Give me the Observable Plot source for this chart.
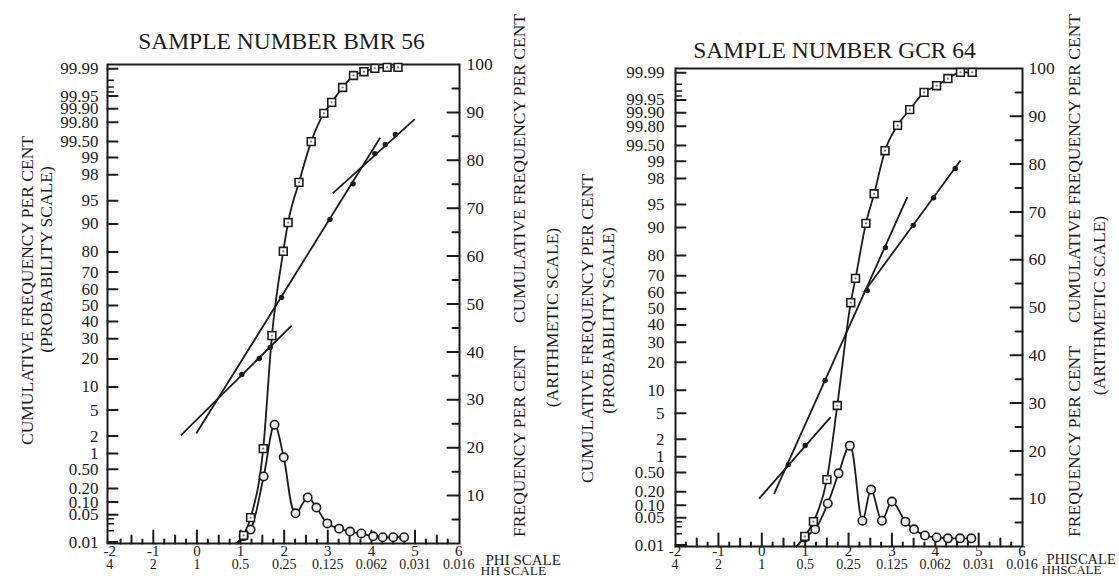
<!DOCTYPE html>
<html>
<head>
<meta charset="utf-8">
<script src="https://cdn.jsdelivr.net/npm/d3@7"></script>
<script src="https://cdn.jsdelivr.net/npm/@observablehq/plot@0.6"></script>
<style>
  html, body { margin: 0; padding: 0; background: #fff; }
  #wrap { display: flex; width: 1119px; height: 576px; overflow: hidden; font-family: "Liberation Serif", "Times New Roman", serif; }
  #wrap svg { overflow: visible; flex: none; }
  #wrap svg, #wrap svg text { font-family: "Liberation Serif", "Times New Roman", serif !important; }
</style>
</head>
<body>
<div id="wrap"></div>
<script>
// ---------------- shared axis data ----------------
const phiTicks = [-2, -1, 0, 1, 2, 3, 4, 5, 6];
const mmLabels = ["4", "2", "1", "0.5", "0.25", "0.125", "0.062", "0.031", "0.016"];
const phiMajor = [-1, 0, 1, 2, 3, 4, 5];
const phiHalf = [-1.5, -0.5, 0.5, 1.5, 2.5, 3.5, 4.5, 5.5];
const phiQuarter = [-1.75, -1.25, -0.75, -0.25, 0.25, 0.75, 1.25, 1.75, 2.25, 2.75, 3.25, 3.75, 4.25, 4.75, 5.25, 5.75];
const probTicks = [99.99, 99.95, 99.9, 99.8, 99.5, 99, 98, 95, 90, 80, 70, 60, 50, 40, 30, 20, 10, 5, 2, 1, 0.5, 0.2, 0.1, 0.05, 0.01];
const probLabels = ["99.99", "99.95", "99.90", "99.80", "99.50", "99", "98", "95", "90", "80", "70", "60", "50", "40", "30", "20", "10", "5", "2", "1", "0.50", "0.20", "0.10", "0.05", "0.01"];
const probMinor = [99.98, 99.97, 99.96, 0.04, 0.03, 0.02];
const arithLabels = [10, 20, 30, 40, 50, 60, 70, 80, 90, 100];
const arithMajor = [10, 20, 30, 40, 50, 60, 70, 80, 90];
const arithMinor = [5, 15, 25, 35, 45, 55, 65, 75, 85, 95];

// ---------------- SAMPLE BMR 56 ----------------
const bmrCumPhi = [0.94, 1.07, 1.23, 1.52, 1.72, 1.98, 2.09, 2.34, 2.62, 2.91, 3.09, 3.34, 3.59, 3.83, 4.08, 4.36, 4.61];
const bmrCumPct = [0, 1.7, 5.4, 19.8, 43.4, 61.0, 67.0, 75.4, 83.9, 89.8, 92.1, 95.2, 97.7, 98.5, 99.2, 99.4, 99.4];
const bmrFreqPhi = [0.90, 1.07, 1.23, 1.53, 1.78, 1.99, 2.26, 2.54, 2.74, 2.99, 3.26, 3.51, 3.77, 4.04, 4.26, 4.50, 4.75];
const bmrFreqPct = [0, 1.5, 2.9, 14.0, 24.8, 18.0, 6.3, 9.6, 7.5, 4.2, 3.1, 2.5, 2.1, 1.5, 1.3, 1.3, 1.3];
const bmrProbPhi = [1.03, 1.43, 1.68, 1.94, 3.05, 3.58, 4.08, 4.32, 4.55];
const bmrProbPct = [13.9, 20.2, 25.4, 55.0, 91.2, 97.2, 99.15, 99.43, 99.64];
// fitted lines: [phi1, pct1, phi2, pct2]
const bmrFits = [[-0.015, 2.2, 4.201, 99.58], [-0.367, 2.05, 2.171, 37.6], [3.112, 96.1, 4.995, 99.83]];

// ---------------- SAMPLE GCR 64 ----------------
const gcrCumPhi = [0.80, 0.99, 1.19, 1.50, 1.74, 2.05, 2.16, 2.40, 2.59, 2.84, 3.13, 3.41, 3.74, 4.03, 4.29, 4.58, 4.85];
const gcrCumPct = [0, 2.1, 5.2, 14.0, 29.5, 51.0, 56.1, 67.6, 73.8, 82.8, 88.1, 91.4, 95.0, 96.4, 97.9, 99.2, 99.2];
const gcrFreqPhi = [0.80, 0.99, 1.23, 1.52, 1.77, 2.03, 2.32, 2.52, 2.77, 3.00, 3.31, 3.51, 3.76, 4.03, 4.29, 4.57, 4.83];
const gcrFreqPct = [0, 1.9, 3.6, 9.0, 15.3, 21.1, 5.4, 11.9, 5.4, 9.4, 5.2, 3.6, 2.3, 1.9, 1.7, 1.7, 1.7];
const gcrProbPhi = [0.61, 1.00, 1.46, 2.43, 2.85, 3.49, 3.96, 4.46];
const gcrProbPct = [0.71, 1.57, 13.0, 61.4, 83.3, 90.6, 96.0, 98.65];
const gcrFits = [[0.282, 0.18, 3.354, 96.08], [-0.065, 0.14, 1.587, 4.41], [2.354, 60.4, 4.581, 99.03]];

// ---------------- probability-scale transform ----------------
function probit(p) {
  const a = [-3.969683028665376e+01, 2.209460984245205e+02, -2.759285104469687e+02, 1.383577518672690e+02, -3.066479806614716e+01, 2.506628277459239e+00];
  const b = [-5.447609879822406e+01, 1.615858368580409e+02, -1.556989798598866e+02, 6.680131188771972e+01, -1.328068155288572e+01];
  const c = [-7.784894002430293e-03, -3.223964580411365e-01, -2.400758277161838e+00, -2.549732539343734e+00, 4.374664141464968e+00, 2.938163982698783e+00];
  const d = [7.784695709041462e-03, 3.224671290700398e-01, 2.445134137142996e+00, 3.754408661907416e+00];
  const pl = 0.02425, ph = 1 - pl;
  let q, r;
  if (p < pl) {
    q = Math.sqrt(-2 * Math.log(p));
    return (((((c[0]*q+c[1])*q+c[2])*q+c[3])*q+c[4])*q+c[5]) / ((((d[0]*q+d[1])*q+d[2])*q+d[3])*q+1);
  }
  if (p <= ph) {
    q = p - 0.5; r = q * q;
    return (((((a[0]*r+a[1])*r+a[2])*r+a[3])*r+a[4])*r+a[5])*q / (((((b[0]*r+b[1])*r+b[2])*r+b[3])*r+b[4])*r+1);
  }
  q = Math.sqrt(-2 * Math.log(1 - p));
  return -(((((c[0]*q+c[1])*q+c[2])*q+c[3])*q+c[4])*q+c[5]) / ((((d[0]*q+d[1])*q+d[2])*q+d[3])*q+1);
}
const ZMAX = probit(0.9999);
// map a cumulative percentage (probability scale) onto the shared 0–100 vertical scale
const probPos = pct => 49.7 + 49.4 * probit(pct / 100) / ZMAX;

// ---------------- drawing ----------------
const INK = "#1b1b1b";
const FONT = "Liberation Serif, Times New Roman, serif";
const tickShape = {draw(context, l) { context.moveTo(0, 0); context.lineTo(0, -l); }};

function panel(p) {
  const probLabelOf = new Map(probTicks.map((t, i) => [probPos(t), probLabels[i]]));
  const at = (txt, X, Y, o = {}) => Plot.text([txt], {
    text: d => d, frameAnchor: "top-left", dx: X - p.ml, dy: Y - p.mt,
    fill: INK, fontSize: 17.5, ...o
  });
  const tick = (data, o) => Plot.vector(data, {anchor: "start", shape: tickShape, stroke: INK, strokeWidth: 2, ...o});
  return Plot.plot({
    width: p.width, height: 576,
    marginLeft: p.ml, marginRight: p.mr, marginTop: p.mt, marginBottom: p.mb,
    x: {domain: p.xDomain, axis: null},
    y: {domain: [0, 100], axis: null},
    style: {fontFamily: FONT, color: INK, background: "transparent", overflow: "visible"},
    marks: [
      // inward ticks
      tick(probTicks, {y: probPos, frameAnchor: "left", length: 10, rotate: 90}),
      tick(probMinor, {y: probPos, frameAnchor: "left", length: 6, rotate: 90, strokeWidth: 1.5}),
      tick(arithMajor, {y: d => d, frameAnchor: "right", length: 12, rotate: -90}),
      tick(arithMinor, {y: d => d, frameAnchor: "right", length: 7, rotate: -90}),
      tick(phiMajor, {x: d => d, frameAnchor: "bottom", length: 13, rotate: 0}),
      tick(phiHalf, {x: d => d, frameAnchor: "bottom", length: 8, rotate: 0}),
      tick(phiQuarter, {x: d => d, frameAnchor: "bottom", length: 4, rotate: 0}),
      Plot.frame({stroke: INK, strokeWidth: 2}),
      // axis tick labels
      Plot.axisY(probTicks.map(probPos), {anchor: "left", tickSize: 0, tickPadding: p.leftPad,
        tickFormat: d => probLabelOf.get(d), fontSize: 17, label: null}),
      Plot.axisY(arithLabels, {anchor: "right", tickSize: 0, tickPadding: p.rightPad,
        tickFormat: d => String(d), fontSize: 17.5, label: null}),
      Plot.text(phiTicks, {x: d => d, text: d => String(d), frameAnchor: "bottom", dy: p.phiDy, fontSize: 15, fill: INK}),
      Plot.text(phiTicks, {x: d => d, text: (d, i) => mmLabels[i], frameAnchor: "bottom", dy: p.mmDy, fontSize: p.mmSize, fill: INK}),
      // curves
      Plot.line(p.freqPhi, {x: p.freqPhi, y: p.freqPct, curve: "catmull-rom", stroke: INK, strokeWidth: 1.8}),
      Plot.line(p.cumPhi, {x: p.cumPhi, y: p.cumPct, curve: "monotone-x", stroke: INK, strokeWidth: 1.8}),
      Plot.link(p.fits, {x1: d => d[0], y1: d => probPos(d[1]), x2: d => d[2], y2: d => probPos(d[3]), stroke: INK, strokeWidth: 1.8}),
      // markers
      Plot.dot(p.freqPhi.slice(1), {x: p.freqPhi.slice(1), y: p.freqPct.slice(1), r: 4.2, fill: "#ececec", stroke: INK, strokeWidth: 1.6}),
      Plot.dot(p.cumPhi.slice(1), {x: p.cumPhi.slice(1), y: p.cumPct.slice(1), symbol: "square", r: 4.4, fill: "white", stroke: INK, strokeWidth: 1.6}),
      Plot.dot(p.cumPhi.slice(1), {x: p.cumPhi.slice(1), y: p.cumPct.slice(1), r: 1.1, fill: "#777"}),
      Plot.dot(p.probPhi, {x: p.probPhi, y: p.probPct.map(probPos), r: 2.7, fill: INK}),
      // titles and axis titles
      at(p.title, p.titleX, p.titleY, {fontSize: 23.5, textAnchor: "middle"}),
      at("CUMULATIVE FREQUENCY PER CENT", p.lab1X, p.lab1Y, {rotate: -90, textAnchor: "middle"}),
      at("(PROBABILITY SCALE)", p.lab2X, p.lab2Y, {rotate: -90, textAnchor: "middle"}),
      at("CUMULATIVE FREQUENCY PER CENT", p.rlab1X, 168, {rotate: -90, textAnchor: "middle"}),
      at("FREQUENCY PER CENT", p.rlab1X, 441, {rotate: -90, textAnchor: "middle"}),
      at("(ARITHMETIC SCALE)", p.rlab2X, p.rlab2Y, {rotate: -90, textAnchor: "middle"}),
      at(p.phiName, p.phiNameX, 553.5, {textAnchor: "start", fontSize: p.nameSize}),
      at(p.mmName, p.mmNameX, 564.5, {textAnchor: "start", fontSize: p.nameSize - 1.5})
    ]
  });
}

const wrap = document.getElementById("wrap");
wrap.append(panel({
  width: 560, ml: 107, mr: 101, mt: 64, mb: 33, xDomain: [-2.05, 6.02],
  leftPad: 9, rightPad: 7, phiDy: 12, mmDy: 25, mmSize: 14,
  cumPhi: bmrCumPhi, cumPct: bmrCumPct, freqPhi: bmrFreqPhi, freqPct: bmrFreqPct,
  probPhi: bmrProbPhi, probPct: bmrProbPct, fits: bmrFits,
  title: "SAMPLE NUMBER BMR 56", titleX: 281, titleY: 32,
  lab1X: 20, lab1Y: 290, lab2X: 39, lab2Y: 259,
  rlab1X: 512, rlab2X: 545, rlab2Y: 317,
  phiName: "PHI SCALE", mmName: "HH SCALE", phiNameX: 485, mmNameX: 480, nameSize: 15
}));
wrap.append(panel({
  width: 559, ml: 115, mr: 97, mt: 68, mb: 30, xDomain: [-1.99, 6.01],
  leftPad: 11, rightPad: 6, phiDy: 9, mmDy: 22, mmSize: 14,
  cumPhi: gcrCumPhi, cumPct: gcrCumPct, freqPhi: gcrFreqPhi, freqPct: gcrFreqPct,
  probPhi: gcrProbPhi, probPct: gcrProbPct, fits: gcrFits,
  title: "SAMPLE NUMBER GCR 64", titleX: 274, titleY: 41,
  lab1X: 20, lab1Y: 328, lab2X: 41, lab2Y: 320,
  rlab1X: 507, rlab2X: 532, rlab2Y: 305,
  phiName: "PHISCALE", mmName: "HHSCALE", phiNameX: 486, mmNameX: 481, nameSize: 14.5
}));
</script>
</body>
</html>
